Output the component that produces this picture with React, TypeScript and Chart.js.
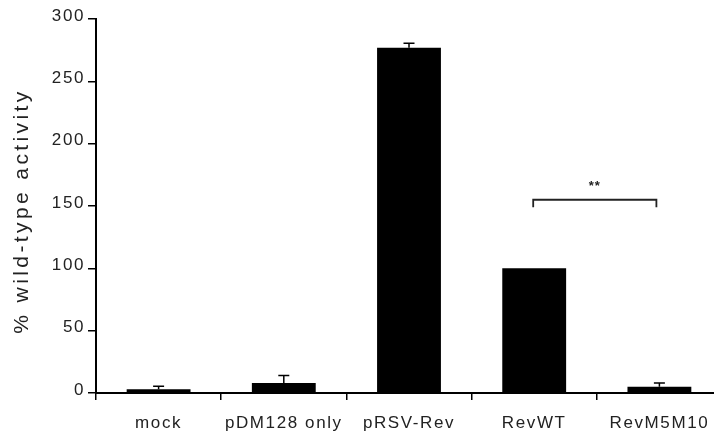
import React, { useEffect, useRef } from "react";
import { Chart, registerables } from "chart.js";

Chart.register(...registerables);

const categories = ["mock", "pDM128 only", "pRSV-Rev", "RevWT", "RevM5M10"];
const values = [3, 8, 277, 100, 5];
const errors = [2.5, 6, 3.5, 0, 3];
const yTicks = [0, 50, 100, 150, 200, 250, 300];
const yTitle = "% wild-type activity";
const bracketFrom = 3;
const bracketTo = 4;
const bracketValue = 155;
const bracketLabel = "**";

const FONT = "'Liberation Sans', Arial, sans-serif";

const spacingPlugin = {
  id: "spacing",
  beforeDraw(chart: any) {
    (chart.ctx as any).letterSpacing = "1.6px";
  },
};

const errorBarPlugin = {
  id: "errorBars",
  afterDatasetsDraw(chart: any) {
    const { ctx, scales } = chart;
    const x = scales.x;
    const y = scales.y;
    ctx.save();
    ctx.strokeStyle = "#000";
    ctx.lineWidth = 1.5;
    values.forEach((v, i) => {
      const e = errors[i];
      if (!e) return;
      const cx = x.getPixelForValue(i);
      const y0 = y.getPixelForValue(v);
      const y1 = y.getPixelForValue(v + e);
      ctx.beginPath();
      ctx.moveTo(cx, y0);
      ctx.lineTo(cx, y1);
      ctx.moveTo(cx - 5.5, y1);
      ctx.lineTo(cx + 5.5, y1);
      ctx.stroke();
    });
    // significance bracket
    const xa = x.getPixelForValue(bracketFrom) - 1;
    const xb = x.getPixelForValue(bracketTo) - 3;
    const yb = y.getPixelForValue(bracketValue);
    const yt = y.getPixelForValue(bracketValue - 6);
    ctx.lineWidth = 1.8;
    ctx.strokeStyle = "#222";
    ctx.beginPath();
    ctx.moveTo(xa, yt);
    ctx.lineTo(xa, yb);
    ctx.lineTo(xb, yb);
    ctx.lineTo(xb, yt);
    ctx.stroke();
    ctx.fillStyle = "#222";
    ctx.letterSpacing = "1px";
    ctx.font = `bold 13px ${FONT}`;
    ctx.textAlign = "center";
    ctx.textBaseline = "middle";
    ctx.fillText(bracketLabel, (xa + xb) / 2, y.getPixelForValue(bracketValue + 12) + 2);
    ctx.restore();
  },
  afterDraw(chart: any) {
    const { ctx, scales } = chart;
    const y = scales.y;
    ctx.save();
    ctx.letterSpacing = "3.4px";
    ctx.fillStyle = "#222";
    ctx.font = `21px ${FONT}`;
    ctx.textAlign = "center";
    ctx.textBaseline = "middle";
    ctx.translate(22, (y.top + y.bottom) / 2 + 5);
    ctx.rotate(-Math.PI / 2);
    ctx.fillText(yTitle, 0, 0);
    ctx.restore();
  },
};

export default function App() {
  const ref = useRef<HTMLCanvasElement | null>(null);
  useEffect(() => {
    if (!ref.current) return;
    const chart = new Chart(ref.current, {
      type: "bar",
      data: {
        labels: categories,
        datasets: [
          {
            data: values,
            backgroundColor: "#000",
            borderColor: "#000",
            borderWidth: 0,
            categoryPercentage: 1,
            barPercentage: 0.51,
          },
        ],
      },
      options: {
        responsive: false,
        animation: false,
        devicePixelRatio: 1,
        layout: { padding: { top: 19, right: 0, left: 0, bottom: 0 } },
        plugins: { legend: { display: false }, tooltip: { enabled: false } },
        scales: {
          x: {
            grid: {
              display: true,
              drawOnChartArea: false,
              drawTicks: true,
              tickLength: 7,
              color: "#000",
              lineWidth: 1.5,
              offset: true,
            },
            border: { color: "#000", width: 2 },
            ticks: {
              color: "#222",
              font: { family: FONT, size: 17 },
              padding: 13,
              maxRotation: 0,
              autoSkip: false,
            },
            afterFit(scale: any) {
              scale.height = 41;
            },
          },
          y: {
            min: 0,
            max: 300,
            afterBuildTicks(scale: any) {
              scale.ticks = yTicks.map((v) => ({ value: v }));
            },
            grid: {
              display: true,
              drawOnChartArea: false,
              drawTicks: true,
              tickLength: 8,
              color: "#000",
              lineWidth: 1.5,
            },
            border: { color: "#000", width: 2 },
            ticks: {
              color: "#222",
              font: { family: FONT, size: 17 },
              padding: 3,
              labelOffset: -3,
            },
            afterFit(scale: any) {
              scale.width = 96;
            },
          },
        },
      },
      plugins: [spacingPlugin, errorBarPlugin],
    });
    return () => chart.destroy();
  }, []);
  return (
    <div
      style={{
        position: "absolute",
        left: 0,
        top: 0,
        width: 714,
        height: 434,
        overflow: "hidden",
        background: "#fff",
      }}
    >
      <canvas ref={ref} width={722} height={434} style={{ display: "block" }} />
    </div>
  );
}
